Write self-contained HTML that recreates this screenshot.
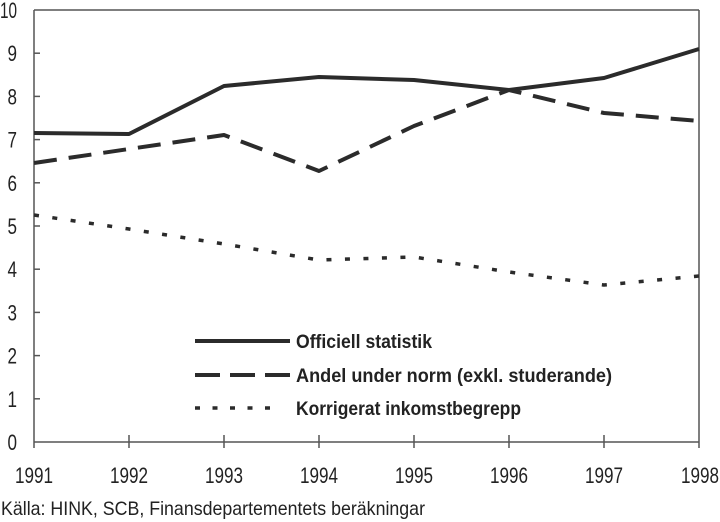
<!DOCTYPE html>
<html><head><meta charset="utf-8"><style>
html,body{margin:0;padding:0;background:#fff;}
svg{display:block;}
text{font-family:"Liberation Sans",sans-serif;fill:#222;}
</style></head><body>
<svg width="720" height="522" viewBox="0 0 720 522" xmlns="http://www.w3.org/2000/svg">
<!-- frame -->
<g stroke="#555" stroke-width="1.5" fill="none">
<line x1="34" y1="10" x2="699" y2="10"/>
<line x1="34" y1="10" x2="34" y2="448"/>
<line x1="699" y1="10" x2="699" y2="448"/>
<line x1="34" y1="442" x2="699" y2="442"/>
<!-- y ticks -->
<line x1="34" y1="398.8" x2="40" y2="398.8"/>
<line x1="34" y1="355.6" x2="40" y2="355.6"/>
<line x1="34" y1="312.4" x2="40" y2="312.4"/>
<line x1="34" y1="269.2" x2="40" y2="269.2"/>
<line x1="34" y1="226" x2="40" y2="226"/>
<line x1="34" y1="182.8" x2="40" y2="182.8"/>
<line x1="34" y1="139.6" x2="40" y2="139.6"/>
<line x1="34" y1="96.4" x2="40" y2="96.4"/>
<line x1="34" y1="53.2" x2="40" y2="53.2"/>
<!-- x ticks -->
<line x1="129" y1="435" x2="129" y2="448"/>
<line x1="224" y1="435" x2="224" y2="448"/>
<line x1="319" y1="435" x2="319" y2="448"/>
<line x1="414" y1="435" x2="414" y2="448"/>
<line x1="509" y1="435" x2="509" y2="448"/>
<line x1="604" y1="435" x2="604" y2="448"/>
</g>
<!-- y labels -->
<g font-size="22" text-anchor="end">
<text x="17" y="450" textLength="9.5" lengthAdjust="spacingAndGlyphs">0</text>
<text x="17" y="406.8" textLength="9.5" lengthAdjust="spacingAndGlyphs">1</text>
<text x="17" y="363.6" textLength="9.5" lengthAdjust="spacingAndGlyphs">2</text>
<text x="17" y="320.4" textLength="9.5" lengthAdjust="spacingAndGlyphs">3</text>
<text x="17" y="277.2" textLength="9.5" lengthAdjust="spacingAndGlyphs">4</text>
<text x="17" y="234" textLength="9.5" lengthAdjust="spacingAndGlyphs">5</text>
<text x="17" y="190.8" textLength="9.5" lengthAdjust="spacingAndGlyphs">6</text>
<text x="17" y="147.6" textLength="9.5" lengthAdjust="spacingAndGlyphs">7</text>
<text x="17" y="104.4" textLength="9.5" lengthAdjust="spacingAndGlyphs">8</text>
<text x="17" y="61.2" textLength="9.5" lengthAdjust="spacingAndGlyphs">9</text>
<text x="17" y="18" textLength="17" lengthAdjust="spacingAndGlyphs">10</text>
</g>
<!-- x labels -->
<g font-size="22" text-anchor="middle">
<text x="34" y="483" textLength="38" lengthAdjust="spacingAndGlyphs">1991</text>
<text x="129" y="483" textLength="38" lengthAdjust="spacingAndGlyphs">1992</text>
<text x="224" y="483" textLength="38" lengthAdjust="spacingAndGlyphs">1993</text>
<text x="319" y="483" textLength="38" lengthAdjust="spacingAndGlyphs">1994</text>
<text x="414" y="483" textLength="38" lengthAdjust="spacingAndGlyphs">1995</text>
<text x="509" y="483" textLength="38" lengthAdjust="spacingAndGlyphs">1996</text>
<text x="604" y="483" textLength="38" lengthAdjust="spacingAndGlyphs">1997</text>
<text x="700" y="483" textLength="38" lengthAdjust="spacingAndGlyphs">1998</text>
</g>
<!-- series -->
<g fill="none" stroke="#2b2b2b" stroke-width="4" stroke-linejoin="round">
<polyline points="34,133 129,134 224,86 319,77 414,80 509,90 604,78 699,49"/>
<polyline stroke-dasharray="23 12" points="34,163 129,149 224,135 319,171 414,126 509,90 604,113 699,121"/>
<polyline stroke-width="3.5" stroke-dasharray="5 13.5" points="34,215 129,229 224,244 319,260 414,257 509,272 604,285 699,276"/>
</g>
<!-- legend -->
<g stroke="#2b2b2b" stroke-width="4" fill="none">
<line x1="195" y1="341" x2="290" y2="341"/>
<line x1="195" y1="375" x2="290" y2="375" stroke-dasharray="25 10"/>
<line x1="195" y1="408" x2="272" y2="408" stroke-width="3.5" stroke-dasharray="5 12.5"/>
</g>
<g font-size="19.5" font-weight="bold">
<text x="296" y="348" textLength="136" lengthAdjust="spacingAndGlyphs">Officiell statistik</text>
<text x="296" y="382" textLength="316" lengthAdjust="spacingAndGlyphs">Andel under norm (exkl. studerande)</text>
<text x="296" y="415" textLength="225" lengthAdjust="spacingAndGlyphs">Korrigerat inkomstbegrepp</text>
</g>
<!-- source -->
<text x="1" y="515" font-size="19.5" textLength="424" lengthAdjust="spacingAndGlyphs">Källa: HINK, SCB, Finansdepartementets beräkningar</text>
</svg>
</body></html>
